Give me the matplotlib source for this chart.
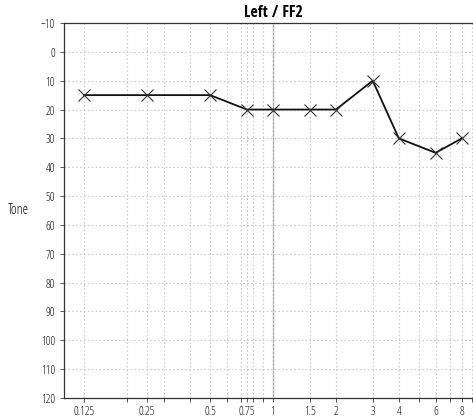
import matplotlib
matplotlib.use("Agg")
import matplotlib.pyplot as plt
from matplotlib.ticker import FixedLocator, FixedFormatter, LogLocator, NullFormatter

plt.rcParams['font.family'] = ['Open Sans', 'DejaVu Sans']
plt.rcParams['font.stretch'] = 'condensed'
plt.rcParams['font.weight'] = 300

# Data
freqs = [0.125, 0.25, 0.5, 0.75, 1, 1.5, 2, 3, 4, 6, 8]
levels = [15, 15, 15, 20, 20, 20, 20, 10, 30, 35, 30]
tick_freqs = [0.125, 0.25, 0.5, 0.75, 1, 1.5, 2, 3, 4, 6, 8]
tick_labels = ["0.125", "0.25", "0.5", "0.75", "1", "1.5", "2", "3", "4", "6", "8"]
y_ticks = list(range(-10, 121, 10))
title = "Left / FF2"
ylabel = "Tone"

W, H = 473, 417
fig = plt.figure(figsize=(W / 100, H / 100), dpi=100)
left, right, top, bottom = 64, 482, 23, 398
ax = fig.add_axes([left / W, 1 - bottom / H, (right - left) / W, (bottom - top) / H])

ax.set_xscale('log')
ax.set_xlim(0.1, 10)
ax.set_ylim(120, -10)

ax.xaxis.set_major_locator(FixedLocator(tick_freqs))
ax.xaxis.set_major_formatter(FixedFormatter(tick_labels))
ax.xaxis.set_minor_locator(LogLocator(base=10, subs=range(2, 10)))
ax.xaxis.set_minor_formatter(NullFormatter())
ax.set_yticks(y_ticks)

ax.grid(True, which='both', axis='x', linestyle=(0, (1.5, 2)), color='#cccccc', linewidth=0.8)
ax.grid(True, which='major', axis='y', linestyle=(0, (1.5, 2)), color='#cccccc', linewidth=0.8)
ax.axvline(1, color='#a0a0a0', linewidth=0.9, zorder=1)

ax.plot(freqs, levels, color='#111111', linewidth=1.3, marker='x', markersize=9,
        markeredgewidth=0.8, markeredgecolor='#333333', zorder=3)

ax.spines['right'].set_visible(False)
for s in ['left', 'bottom', 'top']:
    ax.spines[s].set_color('#333333')
    ax.spines[s].set_linewidth(0.9)

ax.tick_params(axis='both', which='both', labelsize=8.5, length=3, width=0.7, color='#555555',
               labelcolor='#111111')
ax.tick_params(axis='x', which='both', pad=2)

ax.set_title(title, fontsize=11.5, fontweight='bold', pad=4,
             family=['Open Sans Condensed', 'DejaVu Sans'])
ax.set_ylabel(ylabel, fontsize=10, rotation=0, va='center', ha='center', color='#111111')
ax.yaxis.set_label_coords(-46 / (right - left), 0.5)

fig.savefig("out.png", dpi=100)
